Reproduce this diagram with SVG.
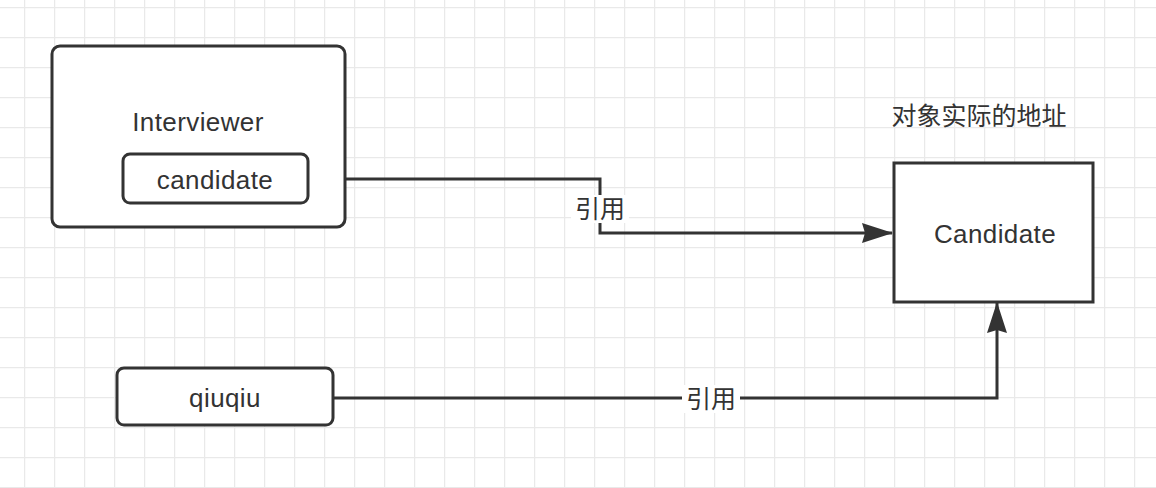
<svg xmlns="http://www.w3.org/2000/svg" width="1156" height="488" viewBox="0 0 1156 488">
<defs>
<pattern id="grid" x="24" y="7" width="30" height="30" patternUnits="userSpaceOnUse">
<path d="M0.5 0 V30 M0 0.5 H30" fill="none" stroke="#e9e9e9" stroke-width="1.5"/>
</pattern>
<marker id="arrow" viewBox="0 0 31 20" refX="30" refY="10" markerWidth="31" markerHeight="20" markerUnits="userSpaceOnUse" orient="auto">
<path d="M0 0 L31 10 L0 20 L3 10 Z" fill="#333"/>
</marker>
<style>
.box{fill:#fff;stroke:#333;stroke-width:3}
.lbl{font-family:"Liberation Sans","Noto Sans CJK SC",sans-serif;font-size:25px;fill:#333;text-anchor:middle;dominant-baseline:central}
.en{font-size:26px;letter-spacing:0.4px}
.conn{fill:none;stroke:#333;stroke-width:3}
</style>
</defs>
<rect width="1156" height="488" fill="#fff"/>
<rect width="1156" height="488" fill="url(#grid)"/>
<g id="connectors">
<path class="conn" d="M308 179 H600 V233 H892" marker-end="url(#arrow)"/>
<rect x="571" y="195" width="58" height="28" fill="#fff"/>
<text class="lbl" x="600" y="209">引用</text>
<path class="conn" d="M333 398 H997 V303" marker-end="url(#arrow)"/>
<rect x="682" y="385" width="58" height="28" fill="#fff"/>
<text class="lbl" x="711" y="399">引用</text>
</g>
<g id="interviewer">
<rect class="box" x="52" y="46" width="293" height="181" rx="8"/>
<text class="lbl en" x="198" y="122">Interviewer</text>
</g>
<g id="candidate-field">
<rect class="box" x="123" y="154" width="185" height="49" rx="7"/>
<text class="lbl en" x="215" y="180">candidate</text>
</g>
<g id="qiuqiu">
<rect class="box" x="117" y="368" width="216" height="57" rx="7"/>
<text class="lbl en" x="225" y="398">qiuqiu</text>
</g>
<g id="candidate">
<rect class="box" x="894" y="163" width="199" height="139"/>
<text class="lbl en" x="995" y="234">Candidate</text>
</g>
<g id="title">
<text class="lbl" x="979" y="116">对象实际的地址</text>
</g>
</svg>
